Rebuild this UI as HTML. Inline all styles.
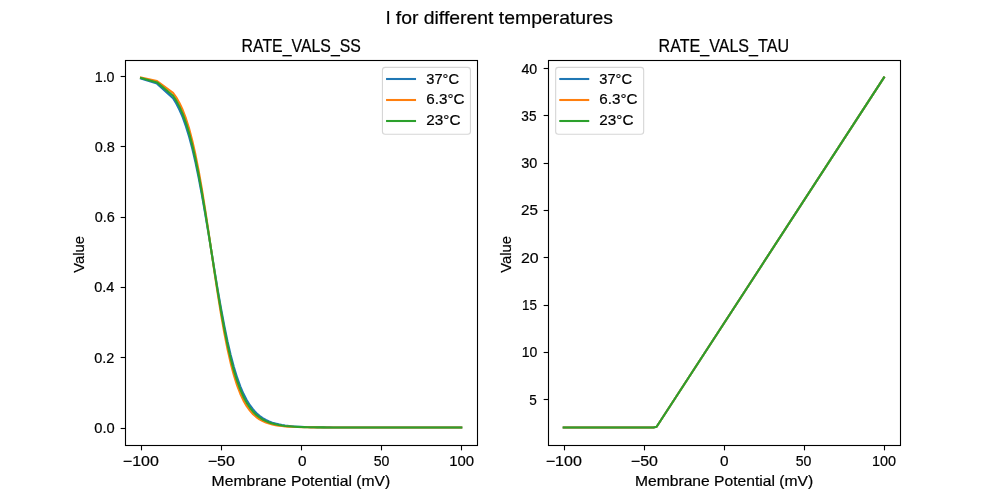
<!DOCTYPE html>
<html lang="en"><head><meta charset="utf-8"><title>l for different temperatures</title>
<style>
html,body{margin:0;padding:0;background:#fff;}
body{width:1000px;height:500px;overflow:hidden;}
svg{display:block;will-change:transform;}
text{font-family:"Liberation Sans",sans-serif;fill:#000;stroke:#000;stroke-width:0.2px;stroke-linejoin:round;}
.sp{stroke:#000;stroke-width:1.11;fill:none;stroke-linecap:square;}
.tk{stroke:#000;stroke-width:1.11;fill:none;}
.ln{fill:none;stroke-width:2.083;stroke-linejoin:round;stroke-linecap:square;}
.lg{fill:#fff;fill-opacity:0.8;stroke:#ccc;stroke-opacity:0.8;stroke-width:1.11;}
</style></head><body>
<svg width="1000" height="500" viewBox="0 0 1000 500">
<rect x="0" y="0" width="1000" height="500" fill="#ffffff"/>
<g>
<clipPath id="css"><rect x="125.00" y="60.00" width="352.27" height="385.00"/></clipPath>
<g clip-path="url(#css)">
<polyline class="ln" stroke="#1f77b4" points="141.01,78.54 157.02,83.61 173.04,98.31 176.24,103.47 179.44,109.72 182.64,117.20 185.85,126.08 189.05,136.51 192.25,148.58 195.45,162.35 198.66,177.79 201.86,194.74 205.06,212.98 208.26,232.13 211.47,251.77 214.67,271.41 217.87,290.57 221.07,308.80 224.28,325.75 227.48,341.19 230.68,354.96 233.88,367.03 237.09,377.46 240.29,386.34 243.49,393.82 246.69,400.07 249.90,405.23 253.10,409.48 256.30,412.95 259.50,415.78 262.71,418.07 265.91,419.93 269.11,421.42 272.31,422.63 275.52,423.60 278.72,424.37 281.92,425.00 285.12,425.50 288.33,425.90 291.53,426.22 294.73,426.48 297.93,426.68 301.14,426.85 304.34,426.98 307.54,427.08 310.74,427.17 313.95,427.23 317.15,427.29 320.35,427.33 323.55,427.36 326.76,427.39 329.96,427.41 333.16,427.43 336.36,427.44 339.57,427.46 342.77,427.46 345.97,427.47 349.17,427.48 352.38,427.48 355.58,427.49 358.78,427.49 361.98,427.49 365.19,427.49 368.39,427.49 371.59,427.50 374.79,427.50 378.00,427.50 381.20,427.50 384.40,427.50 387.60,427.50 390.81,427.50 394.01,427.50 397.21,427.50 400.41,427.50 403.62,427.50 406.82,427.50 410.02,427.50 413.22,427.50 416.43,427.50 419.63,427.50 422.83,427.50 426.03,427.50 429.24,427.50 432.44,427.50 435.64,427.50 438.84,427.50 442.05,427.50 445.25,427.50 448.45,427.50 451.65,427.50 454.86,427.50 458.06,427.50 461.26,427.50"/>
<polyline class="ln" stroke="#ff7f0e" points="141.01,77.50 157.02,81.06 173.04,92.88 176.24,97.35 179.44,102.92 182.64,109.79 185.85,118.20 189.05,128.35 192.25,140.43 195.45,154.58 198.66,170.81 201.86,189.00 205.06,208.88 208.26,229.99 211.47,251.77 214.67,273.55 217.87,294.66 221.07,314.54 224.28,332.73 227.48,348.96 230.68,363.11 233.88,375.19 237.09,385.34 240.29,393.75 243.49,400.62 246.69,406.19 249.90,410.66 253.10,414.24 256.30,417.07 259.50,419.32 262.71,421.09 265.91,422.48 269.11,423.58 272.31,424.43 275.52,425.11 278.72,425.63 281.92,426.04 285.12,426.36 288.33,426.61 291.53,426.81 294.73,426.96 297.93,427.08 301.14,427.17 304.34,427.24 307.54,427.30 310.74,427.34 313.95,427.38 317.15,427.41 320.35,427.43 323.55,427.44 326.76,427.46 329.96,427.47 333.16,427.47 336.36,427.48 339.57,427.48 342.77,427.49 345.97,427.49 349.17,427.49 352.38,427.49 355.58,427.50 358.78,427.50 361.98,427.50 365.19,427.50 368.39,427.50 371.59,427.50 374.79,427.50 378.00,427.50 381.20,427.50 384.40,427.50 387.60,427.50 390.81,427.50 394.01,427.50 397.21,427.50 400.41,427.50 403.62,427.50 406.82,427.50 410.02,427.50 413.22,427.50 416.43,427.50 419.63,427.50 422.83,427.50 426.03,427.50 429.24,427.50 432.44,427.50 435.64,427.50 438.84,427.50 442.05,427.50 445.25,427.50 448.45,427.50 451.65,427.50 454.86,427.50 458.06,427.50 461.26,427.50"/>
<polyline class="ln" stroke="#2ca02c" points="141.01,78.03 157.02,82.39 173.04,95.80 176.24,100.66 179.44,106.62 182.64,113.85 185.85,122.55 189.05,132.88 192.25,144.99 195.45,158.95 198.66,174.75 201.86,192.25 205.06,211.21 208.26,231.21 211.47,251.77 214.67,272.33 217.87,292.34 221.07,311.29 224.28,328.80 227.48,344.60 230.68,358.56 233.88,370.66 237.09,380.99 240.29,389.69 243.49,396.92 246.69,402.88 249.90,407.75 253.10,411.70 256.30,414.89 259.50,417.46 262.71,419.51 265.91,421.16 269.11,422.47 272.31,423.51 275.52,424.34 278.72,424.99 281.92,425.52 285.12,425.93 288.33,426.26 291.53,426.52 294.73,426.72 297.93,426.89 301.14,427.01 304.34,427.12 307.54,427.20 310.74,427.26 313.95,427.31 317.15,427.35 320.35,427.38 323.55,427.41 326.76,427.43 329.96,427.44 333.16,427.45 336.36,427.46 339.57,427.47 342.77,427.48 345.97,427.48 349.17,427.49 352.38,427.49 355.58,427.49 358.78,427.49 361.98,427.49 365.19,427.50 368.39,427.50 371.59,427.50 374.79,427.50 378.00,427.50 381.20,427.50 384.40,427.50 387.60,427.50 390.81,427.50 394.01,427.50 397.21,427.50 400.41,427.50 403.62,427.50 406.82,427.50 410.02,427.50 413.22,427.50 416.43,427.50 419.63,427.50 422.83,427.50 426.03,427.50 429.24,427.50 432.44,427.50 435.64,427.50 438.84,427.50 442.05,427.50 445.25,427.50 448.45,427.50 451.65,427.50 454.86,427.50 458.06,427.50 461.26,427.50"/>
</g>
<line class="tk" x1="141.5" y1="445.50" x2="141.5" y2="450.36"/>
<line class="tk" x1="221.5" y1="445.50" x2="221.5" y2="450.36"/>
<line class="tk" x1="301.5" y1="445.50" x2="301.5" y2="450.36"/>
<line class="tk" x1="381.5" y1="445.50" x2="381.5" y2="450.36"/>
<line class="tk" x1="461.5" y1="445.50" x2="461.5" y2="450.36"/>
<line class="tk" x1="120.64" y1="428.5" x2="125.50" y2="428.5"/>
<line class="tk" x1="120.64" y1="357.5" x2="125.50" y2="357.5"/>
<line class="tk" x1="120.64" y1="287.5" x2="125.50" y2="287.5"/>
<line class="tk" x1="120.64" y1="217.5" x2="125.50" y2="217.5"/>
<line class="tk" x1="120.64" y1="146.5" x2="125.50" y2="146.5"/>
<line class="tk" x1="120.64" y1="76.5" x2="125.50" y2="76.5"/>
<rect class="sp" x="125.5" y="60.5" width="352.0" height="385.0"/>
</g>
<g>
<clipPath id="ctau"><rect x="547.73" y="60.00" width="352.27" height="385.00"/></clipPath>
<g clip-path="url(#ctau)">
<polyline class="ln" stroke="#1f77b4" points="563.74,427.50 653.41,427.50 656.61,426.74 883.99,77.50"/>
<polyline class="ln" stroke="#ff7f0e" points="563.74,427.50 653.41,427.50 656.61,426.74 883.99,77.50"/>
<polyline class="ln" stroke="#2ca02c" points="563.74,427.50 653.41,427.50 656.61,426.74 883.99,77.50"/>
</g>
<line class="tk" x1="564.5" y1="445.50" x2="564.5" y2="450.36"/>
<line class="tk" x1="644.5" y1="445.50" x2="644.5" y2="450.36"/>
<line class="tk" x1="724.5" y1="445.50" x2="724.5" y2="450.36"/>
<line class="tk" x1="804.5" y1="445.50" x2="804.5" y2="450.36"/>
<line class="tk" x1="884.5" y1="445.50" x2="884.5" y2="450.36"/>
<line class="tk" x1="543.64" y1="399.5" x2="548.50" y2="399.5"/>
<line class="tk" x1="543.64" y1="352.5" x2="548.50" y2="352.5"/>
<line class="tk" x1="543.64" y1="305.5" x2="548.50" y2="305.5"/>
<line class="tk" x1="543.64" y1="257.5" x2="548.50" y2="257.5"/>
<line class="tk" x1="543.64" y1="210.5" x2="548.50" y2="210.5"/>
<line class="tk" x1="543.64" y1="163.5" x2="548.50" y2="163.5"/>
<line class="tk" x1="543.64" y1="115.5" x2="548.50" y2="115.5"/>
<line class="tk" x1="543.64" y1="68.5" x2="548.50" y2="68.5"/>
<rect class="sp" x="548.5" y="60.5" width="352.0" height="385.0"/>
</g>
<rect class="lg" x="382.45" y="67.35" width="88.0" height="66.95" rx="2.78" ry="2.78"/>
<line x1="387.10" y1="79.00" x2="415.00" y2="79.00" stroke="#1f77b4" stroke-width="2.083" stroke-linecap="square"/>
<line x1="387.10" y1="100.00" x2="415.00" y2="100.00" stroke="#ff7f0e" stroke-width="2.083" stroke-linecap="square"/>
<line x1="387.10" y1="121.00" x2="415.00" y2="121.00" stroke="#2ca02c" stroke-width="2.083" stroke-linecap="square"/>
<rect class="lg" x="555.65" y="67.35" width="88.0" height="66.95" rx="2.78" ry="2.78"/>
<line x1="560.30" y1="79.00" x2="588.20" y2="79.00" stroke="#1f77b4" stroke-width="2.083" stroke-linecap="square"/>
<line x1="560.30" y1="100.00" x2="588.20" y2="100.00" stroke="#ff7f0e" stroke-width="2.083" stroke-linecap="square"/>
<line x1="560.30" y1="121.00" x2="588.20" y2="121.00" stroke="#2ca02c" stroke-width="2.083" stroke-linecap="square"/>
<text x="386.10" y="24.00" font-size="18.60" textLength="226.91" lengthAdjust="spacingAndGlyphs">l for different temperatures</text>
<text x="241.55" y="52.00" font-size="18.40" textLength="119.35" lengthAdjust="spacingAndGlyphs">RATE_VALS_SS</text>
<text x="658.56" y="52.00" font-size="18.40" textLength="130.44" lengthAdjust="spacingAndGlyphs">RATE_VALS_TAU</text>
<text x="94.72" y="82.00" font-size="14.30" textLength="19.84" lengthAdjust="spacingAndGlyphs">1.0</text>
<text x="94.65" y="152.00" font-size="14.30" textLength="20.17" lengthAdjust="spacingAndGlyphs">0.8</text>
<text x="94.67" y="222.00" font-size="14.30" textLength="20.08" lengthAdjust="spacingAndGlyphs">0.6</text>
<text x="94.26" y="292.00" font-size="14.30" textLength="20.16" lengthAdjust="spacingAndGlyphs">0.4</text>
<text x="94.27" y="363.00" font-size="14.30" textLength="20.12" lengthAdjust="spacingAndGlyphs">0.2</text>
<text x="94.25" y="433.00" font-size="14.30" textLength="20.41" lengthAdjust="spacingAndGlyphs">0.0</text>
<text x="521.39" y="74.00" font-size="14.30" textLength="15.81" lengthAdjust="spacingAndGlyphs">40</text>
<text x="521.32" y="121.00" font-size="14.30" textLength="15.14" lengthAdjust="spacingAndGlyphs">35</text>
<text x="521.31" y="168.00" font-size="14.30" textLength="16.05" lengthAdjust="spacingAndGlyphs">30</text>
<text x="521.12" y="215.00" font-size="14.30" textLength="16.91" lengthAdjust="spacingAndGlyphs">25</text>
<text x="521.01" y="263.00" font-size="14.30" textLength="17.68" lengthAdjust="spacingAndGlyphs">20</text>
<text x="521.97" y="310.00" font-size="14.30" textLength="14.92" lengthAdjust="spacingAndGlyphs">15</text>
<text x="521.81" y="357.00" font-size="14.30" textLength="15.62" lengthAdjust="spacingAndGlyphs">10</text>
<text x="529.32" y="405.00" font-size="14.30" textLength="7.53" lengthAdjust="spacingAndGlyphs">5</text>
<text x="122.85" y="466.00" font-size="14.30" textLength="35.96" lengthAdjust="spacingAndGlyphs">−100</text>
<text x="207.75" y="466.00" font-size="14.30" textLength="27.12" lengthAdjust="spacingAndGlyphs">−50</text>
<text x="297.92" y="466.00" font-size="14.30" textLength="8.56" lengthAdjust="spacingAndGlyphs">0</text>
<text x="373.65" y="466.00" font-size="14.30" textLength="15.71" lengthAdjust="spacingAndGlyphs">50</text>
<text x="449.25" y="466.00" font-size="14.30" textLength="24.89" lengthAdjust="spacingAndGlyphs">100</text>
<text x="545.79" y="466.00" font-size="14.30" textLength="36.03" lengthAdjust="spacingAndGlyphs">−100</text>
<text x="630.87" y="466.00" font-size="14.30" textLength="27.02" lengthAdjust="spacingAndGlyphs">−50</text>
<text x="719.92" y="466.00" font-size="14.30" textLength="8.56" lengthAdjust="spacingAndGlyphs">0</text>
<text x="795.65" y="466.00" font-size="14.30" textLength="15.71" lengthAdjust="spacingAndGlyphs">50</text>
<text x="871.93" y="466.00" font-size="14.30" textLength="24.09" lengthAdjust="spacingAndGlyphs">100</text>
<text x="211.64" y="486.00" font-size="14.30" textLength="178.68" lengthAdjust="spacingAndGlyphs">Membrane Potential (mV)</text>
<text x="635.02" y="486.00" font-size="14.30" textLength="178.15" lengthAdjust="spacingAndGlyphs">Membrane Potential (mV)</text>
<text transform="translate(84.00 272.83) rotate(-90)" x="0" y="0" font-size="14.30" textLength="36.82" lengthAdjust="spacingAndGlyphs">Value</text>
<text transform="translate(511.00 272.83) rotate(-90)" x="0" y="0" font-size="14.30" textLength="36.82" lengthAdjust="spacingAndGlyphs">Value</text>
<text x="426.27" y="84.00" font-size="14.30" textLength="32.78" lengthAdjust="spacingAndGlyphs">37°C</text>
<text x="426.27" y="104.00" font-size="14.30" textLength="38.20" lengthAdjust="spacingAndGlyphs">6.3°C</text>
<text x="426.29" y="125.00" font-size="14.30" textLength="34.14" lengthAdjust="spacingAndGlyphs">23°C</text>
<text x="599.27" y="84.00" font-size="14.30" textLength="32.78" lengthAdjust="spacingAndGlyphs">37°C</text>
<text x="599.27" y="104.00" font-size="14.30" textLength="38.20" lengthAdjust="spacingAndGlyphs">6.3°C</text>
<text x="599.29" y="125.00" font-size="14.30" textLength="34.14" lengthAdjust="spacingAndGlyphs">23°C</text>
</svg>
</body></html>
